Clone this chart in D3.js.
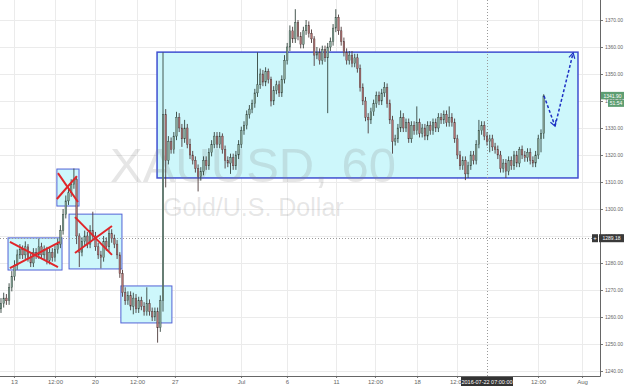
<!DOCTYPE html>
<html>
<head>
<meta charset="utf-8">
<script src="https://cdn.jsdelivr.net/npm/d3@7"></script>
<style>
  body { margin: 0; background: #fff; }
  svg { display: block; font-family: "Liberation Sans", Arial, sans-serif; }
</style>
</head>
<body>
<div id="chart"></div>
<script>
// XAUUSD, read off the screenshot as 4-hour bars (bar 0 = left edge, mid June 2016)
// open of each bar = close of the previous bar
var firstOpen = 1263;
var closes = [
  1265, 1267, 1266, 1271, 1275, 1279, 1283, 1285, 1283, 1286,
  1282, 1280, 1284, 1283, 1286, 1283, 1285, 1281, 1284, 1282,
  1285, 1287, 1292, 1298, 1303, 1306, 1309, 1311, 1290, 1284,
  1288, 1290, 1287, 1292, 1290, 1286, 1283, 1282, 1288, 1286,
  1291, 1289, 1287, 1283, 1276, 1269, 1266, 1268, 1264, 1267,
  1263, 1266, 1264, 1262, 1265, 1262, 1260, 1262, 1256, 1266,
  1335, 1318, 1325, 1322, 1327, 1334, 1330, 1326, 1330, 1324,
  1320, 1318, 1315, 1312, 1314, 1318, 1316, 1321, 1324, 1327,
  1324, 1327, 1322, 1318, 1317, 1319, 1316, 1320, 1324, 1329,
  1331, 1335, 1337, 1339, 1343, 1346, 1350, 1347, 1351, 1348,
  1340, 1344, 1346, 1343, 1348, 1355, 1360, 1366, 1363, 1369,
  1364, 1361, 1366, 1368, 1365, 1363, 1357, 1358, 1355, 1359,
  1356, 1360, 1362, 1367, 1371, 1366, 1362, 1358, 1355, 1357,
  1354, 1356, 1352, 1345, 1340, 1334, 1333, 1336, 1339, 1342,
  1340, 1343, 1345, 1339, 1333, 1325, 1326, 1330, 1334, 1330,
  1332, 1326, 1331, 1329, 1332, 1328, 1330, 1327, 1331, 1329,
  1332, 1330, 1334, 1333, 1335, 1332, 1334, 1332, 1326, 1320,
  1316, 1318, 1313, 1316, 1320, 1318, 1324, 1329, 1331, 1327,
  1325, 1326, 1323, 1322, 1320, 1315, 1317, 1314, 1318, 1316,
  1320, 1317, 1322, 1320, 1319, 1321, 1318, 1317, 1320, 1326,
  1328, 1341.9
];
var highs = [
  1267, 1269, 1268.5, 1272.5, 1277, 1281, 1285, 1287, 1286.5, 1288,
  1287, 1283.5, 1285.5, 1285.5, 1289, 1287.5, 1286.5, 1286, 1285.5, 1285.5,
  1286.5, 1289, 1294, 1300, 1305, 1308, 1311, 1315, 1312, 1291,
  1289.5, 1292, 1291.5, 1294, 1299, 1291.5, 1287.5, 1284.5, 1290, 1289.5,
  1293, 1292.5, 1290.5, 1288.5, 1284, 1277.5, 1271, 1269.5, 1269.5, 1269,
  1268.5, 1267.5, 1267.5, 1265.5, 1271, 1266.5, 1263.5, 1263.5, 1263.5, 1268,
  1358, 1337, 1327, 1326.5, 1328.5, 1336, 1335.5, 1331.5, 1333, 1331.5,
  1326, 1321.5, 1319.5, 1316.5, 1315.5, 1319.5, 1319.5, 1322.5, 1325.5, 1328.5,
  1328.5, 1328.5, 1328, 1323.5, 1319.5, 1320.5, 1320.5, 1321.5, 1325.5, 1330.5,
  1332.5, 1336.5, 1338.5, 1340.5, 1344.5, 1358, 1352, 1351.5, 1352.5, 1352,
  1349, 1345.5, 1347.5, 1347.5, 1349.5, 1357, 1361.5, 1368, 1367.5, 1374,
  1370, 1365.5, 1367.5, 1370, 1369.5, 1366.5, 1364, 1360, 1359.5, 1360.5,
  1360.5, 1361.5, 1363.5, 1368.5, 1374, 1372, 1367.5, 1363.5, 1359.5, 1358.5,
  1358.5, 1357.5, 1357.5, 1353.5, 1346.5, 1341.5, 1335.5, 1337.5, 1340.5, 1343.5,
  1343.5, 1344.5, 1347, 1346.5, 1340.5, 1334.5, 1327.5, 1331.5, 1336.5, 1335.5,
  1333.5, 1333.5, 1332.5, 1332.5, 1338, 1333.5, 1331.5, 1331.5, 1332.5, 1332.5,
  1333.5, 1333.5, 1335.5, 1335.5, 1336.5, 1336.5, 1338, 1335.5, 1333.5, 1327.5,
  1321.5, 1319.5, 1319.5, 1317.5, 1321.5, 1321.5, 1325.5, 1333, 1332.5, 1332.5,
  1328.5, 1327.5, 1327.5, 1324.5, 1323.5, 1321.5, 1318.5, 1318.5, 1319.5, 1319.5,
  1321.5, 1321.5, 1323, 1323.5, 1321.5, 1322.5, 1322.5, 1319.5, 1321.5, 1327.5,
  1329.5, 1342.5
];
var lows = [
  1261.5, 1263.5, 1264.5, 1264.5, 1269.5, 1273.5, 1277.5, 1281.5, 1281.5, 1281.5,
  1280.5, 1278.5, 1278.5, 1281.5, 1281.5, 1281.5, 1281.5, 1279.5, 1279.5, 1280.5,
  1280.5, 1283.5, 1285.5, 1290.5, 1296.5, 1301.5, 1304.5, 1307.5, 1287, 1278.5,
  1282.5, 1286.5, 1285.5, 1285.5, 1288.5, 1284.5, 1281.5, 1278, 1280.5, 1284.5,
  1284.5, 1287.5, 1285.5, 1281.5, 1274.5, 1267.5, 1264.5, 1264.5, 1262.5, 1261,
  1261.5, 1261.5, 1262.5, 1260.5, 1260.5, 1260.5, 1258.5, 1258.5, 1250.5, 1254.5,
  1262, 1308, 1316.5, 1320.5, 1320.5, 1325.5, 1328.5, 1323, 1324.5, 1322.5,
  1318.5, 1316.5, 1313.5, 1306.5, 1310.5, 1312.5, 1314.5, 1314.5, 1319.5, 1322.5,
  1322.5, 1322.5, 1320.5, 1315, 1315.5, 1313, 1314.5, 1314.5, 1318.5, 1322.5,
  1327.5, 1329.5, 1333.5, 1335.5, 1337.5, 1341.5, 1344.5, 1345.5, 1345.5, 1346.5,
  1338, 1338.5, 1342.5, 1341.5, 1341.5, 1346.5, 1353.5, 1358.5, 1361.5, 1361.5,
  1362.5, 1359.5, 1359.5, 1364.5, 1363.5, 1361.5, 1353, 1355.5, 1353.5, 1353.5,
  1354.5, 1335.5, 1358.5, 1360.5, 1365.5, 1364.5, 1360.5, 1356.5, 1353.5, 1353.5,
  1352.5, 1352.5, 1350.5, 1343.5, 1338.5, 1332.5, 1328, 1331.5, 1334.5, 1337.5,
  1338.5, 1338.5, 1341.5, 1337.5, 1331.5, 1320.5, 1323.5, 1324.5, 1328.5, 1328.5,
  1328.5, 1324.5, 1324.5, 1327.5, 1327.5, 1326.5, 1326.5, 1325.5, 1325.5, 1327.5,
  1327.5, 1328.5, 1328.5, 1331.5, 1331.5, 1330.5, 1330.5, 1330.5, 1324.5, 1318.5,
  1314.5, 1314.5, 1310.7, 1311.5, 1314.5, 1316.5, 1316.5, 1322.5, 1327.5, 1325.5,
  1323.5, 1321, 1321.5, 1320.5, 1318.5, 1313.5, 1313.5, 1311.5, 1312.5, 1314.5,
  1314.5, 1315.5, 1315.5, 1318.5, 1317.5, 1317.5, 1316.5, 1315.5, 1315.5, 1318.5,
  1321, 1326
];

// time axis, positions in bar units
var timeTickBars = [4.8, 20, 34.8, 50.4, 64.4, 88.9, 105.9, 124.1, 138.5, 154.1, 168.9, 198.9, 215.2];
var timeTickLabels = ["13", "12:00", "20", "12:00", "27", "Jul", "6", "11", "12:00", "18", "12:00", "12:00", "Aug"];
var priceTicks = [1240, 1250, 1260, 1270, 1280, 1290, 1300, 1310, 1320, 1330, 1340, 1350, 1360, 1370];

// hand-drawn annotations, in bar / price units
var rangeBoxes = [
  {b0: 2.6, b1: 22.6, p0: 1277.4, p1: 1289.3},
  {b0: 20.7, b1: 28.9, p0: 1301.1, p1: 1314.8},
  {b0: 25.2, b1: 44.8, p0: 1277.8, p1: 1298.1},
  {b0: 44.4, b1: 63.3, p0: 1257.8, p1: 1271.5},
  {b0: 57.8, b1: 213.7, p0: 1311.5, p1: 1358.1, big: true}
];
var crossOuts = [
  [[3.3, 1287.8], [21.1, 1278.5]], [[3.3, 1278.1], [21.8, 1287.8]],
  [[21.1, 1313.3], [28.5, 1302.6]], [[20.7, 1303.7], [28.1, 1312.2]],
  [[27.4, 1297.0], [41.1, 1283.0]], [[27.4, 1283.7], [41.1, 1293.7]]
];
var forecast = [[201.1, 1341.9], [205.2, 1330.7], [211.9, 1357.8]];

var lastPrice = 1341.90, countdown = "51:54";
var crossPrice = 1289.18, crossBar = 180, crossLabel = "2016-07-22 07:00:00";

// ---------------------------------------------------------------
var W = 625, H = 386, plotRight = 600, plotBottom = 376;

var svg = d3.select("#chart").append("svg")
  .attr("width", W)
  .attr("height", H);

var x = d3.scaleLinear().domain([-0.37, 221.85]).range([0, plotRight]);
var y = d3.scaleLinear().domain([1240, 1370]).range([371, 20]);

var bars = closes.map(function(c, i) {
  return {i: i, o: i ? closes[i - 1] : firstOpen, h: highs[i], l: lows[i], c: c};
});

svg.append("clipPath").attr("id", "plot")
  .append("rect").attr("width", plotRight).attr("height", plotBottom);

// grid
var grid = svg.append("g").attr("clip-path", "url(#plot)");
grid.selectAll(".hg")
  .data(priceTicks.concat([1380]))
  .enter().append("line")
    .attr("x1", 0).attr("x2", plotRight)
    .attr("y1", function(d) { return y(d) + 0.5; })
    .attr("y2", function(d) { return y(d) + 0.5; })
    .attr("stroke", "#ebebeb");
grid.selectAll(".vg")
  .data(timeTickBars)
  .enter().append("line")
    .attr("x1", function(d) { return Math.round(x(d)) + 0.5; })
    .attr("x2", function(d) { return Math.round(x(d)) + 0.5; })
    .attr("y1", 0).attr("y2", plotBottom)
    .attr("stroke", "#ebebeb");

// boxes
svg.append("g").selectAll("rect")
  .data(rangeBoxes)
  .enter().append("rect")
    .attr("x", function(d) { return x(d.b0); })
    .attr("y", function(d) { return y(d.p1); })
    .attr("width", function(d) { return x(d.b1) - x(d.b0); })
    .attr("height", function(d) { return y(d.p0) - y(d.p1); })
    .attr("fill", "#cdf7fb")
    .attr("stroke", function(d) { return d.big ? "#3f4fd0" : "#5262d6"; })
    .attr("stroke-width", function(d) { return d.big ? 1.5 : 1; });

// watermark
svg.append("text")
  .attr("x", 110).attr("y", 182)
  .attr("font-size", 49)
  .attr("fill", "#808080").attr("fill-opacity", 0.2)
  .text("XAUUSD, 60");
svg.append("text")
  .attr("x", 163).attr("y", 216)
  .attr("font-size", 25)
  .attr("fill", "#808080").attr("fill-opacity", 0.2)
  .text("Gold/U.S. Dollar");

// crosshair
svg.append("line")
  .attr("x1", 0).attr("x2", plotRight)
  .attr("y1", Math.round(y(crossPrice)) + 0.5).attr("y2", Math.round(y(crossPrice)) + 0.5)
  .attr("stroke", "#9a9a9a").attr("stroke-dasharray", "1,2");
svg.append("line")
  .attr("x1", Math.round(x(crossBar)) + 0.5).attr("x2", Math.round(x(crossBar)) + 0.5)
  .attr("y1", 0).attr("y2", plotBottom)
  .attr("stroke", "#9a9a9a").attr("stroke-dasharray", "1,2");

// candles
var candles = svg.append("g").attr("clip-path", "url(#plot)")
  .selectAll("g")
  .data(bars)
  .enter().append("g");
candles.append("line")
  .attr("x1", function(d) { return x(d.i); })
  .attr("x2", function(d) { return x(d.i); })
  .attr("y1", function(d) { return y(d.h); })
  .attr("y2", function(d) { return y(d.l); })
  .attr("stroke", function(d) { return d.c >= d.o ? "#34453e" : "#4e3b3b"; })
  .attr("stroke-width", 0.9);
candles.append("rect")
  .attr("x", function(d) { return x(d.i) - 0.8; })
  .attr("width", 1.6)
  .attr("y", function(d) { return y(Math.max(d.o, d.c)); })
  .attr("height", function(d) { return Math.max(0.6, Math.abs(y(d.o) - y(d.c))); })
  .attr("fill", function(d) { return d.c >= d.o ? "#86a597" : "#b07272"; })
  .attr("stroke", function(d) { return d.c >= d.o ? "#34453e" : "#4e3b3b"; })
  .attr("stroke-width", 0.4);

// red crosses
svg.append("g").selectAll("line")
  .data(crossOuts)
  .enter().append("line")
    .attr("x1", function(d) { return x(d[0][0]); })
    .attr("y1", function(d) { return y(d[0][1]); })
    .attr("x2", function(d) { return x(d[1][0]); })
    .attr("y2", function(d) { return y(d[1][1]); })
    .attr("stroke", "#e0262a")
    .attr("stroke-width", 2);

// forecast arrow
svg.append("defs").append("marker")
  .attr("id", "head")
  .attr("viewBox", "0 0 10 10")
  .attr("refX", 8).attr("refY", 5)
  .attr("markerWidth", 5).attr("markerHeight", 5)
  .attr("orient", "auto")
  .append("path")
    .attr("d", "M1,1 L8,5 L1,9")
    .attr("fill", "none")
    .attr("stroke", "#1d30c4")
    .attr("stroke-width", 1.6);
for (var k = 0; k < forecast.length - 1; k++) {
  svg.append("line")
    .attr("x1", x(forecast[k][0])).attr("y1", y(forecast[k][1]))
    .attr("x2", x(forecast[k + 1][0])).attr("y2", y(forecast[k + 1][1]))
    .attr("stroke", "#1d30c4")
    .attr("stroke-width", 1.5)
    .attr("stroke-dasharray", "3,2")
    .attr("marker-end", "url(#head)");
}

// axes
var yAxis = svg.append("g")
  .attr("transform", "translate(" + plotRight + ",0)")
  .call(d3.axisRight(y).tickValues(priceTicks).tickFormat(d3.format(".2f")).tickSize(3).tickPadding(2));
yAxis.select(".domain").remove();
yAxis.selectAll("text").attr("font-size", 5).attr("fill", "#666").attr("font-family", "Liberation Sans, Arial, sans-serif");
yAxis.selectAll("line").attr("stroke", "#777");

var xAxis = svg.append("g")
  .attr("transform", "translate(0," + plotBottom + ")")
  .call(d3.axisBottom(x).tickValues(timeTickBars)
    .tickFormat(function(d, i) { return timeTickLabels[i]; })
    .tickSize(2).tickPadding(2));
xAxis.select(".domain").remove();
xAxis.selectAll("text").attr("font-size", 6).attr("fill", "#666").attr("font-family", "Liberation Sans, Arial, sans-serif");
xAxis.selectAll("line").attr("stroke", "#777");

svg.append("line")
  .attr("x1", plotRight + 0.5).attr("x2", plotRight + 0.5)
  .attr("y1", 0).attr("y2", plotBottom + 0.5)
  .attr("stroke", "#666");
svg.append("line")
  .attr("x1", 0).attr("x2", plotRight + 0.5)
  .attr("y1", plotBottom + 0.5).attr("y2", plotBottom + 0.5)
  .attr("stroke", "#666");

// price / time tags
function tag(px, py, w, h, fill, label, size) {
  svg.append("rect").attr("x", px).attr("y", py).attr("width", w).attr("height", h).attr("fill", fill);
  svg.append("text")
    .attr("x", px + w / 2).attr("y", py + h / 2)
    .attr("text-anchor", "middle").attr("dominant-baseline", "central")
    .attr("font-size", size).attr("fill", "#fff")
    .text(label);
}
var yl = y(lastPrice);
tag(plotRight + 1, yl - 4, 23, 7.5, "#5e9e72", d3.format(".2f")(lastPrice), 5);
tag(plotRight + 8, yl + 4, 16, 7, "#5e9e72", countdown, 5);
var yc = y(crossPrice);
tag(plotRight - 1, yc - 4, 25, 8, "#3a3a3a", d3.format(".2f")(crossPrice), 5);
tag(plotRight - 8, yc - 4, 6, 8, "#3a3a3a", "+", 6);
var xc = x(crossBar);
tag(xc - 26, plotBottom + 1, 52, 9, "#333", crossLabel, 5.5);
</script>
</body>
</html>
